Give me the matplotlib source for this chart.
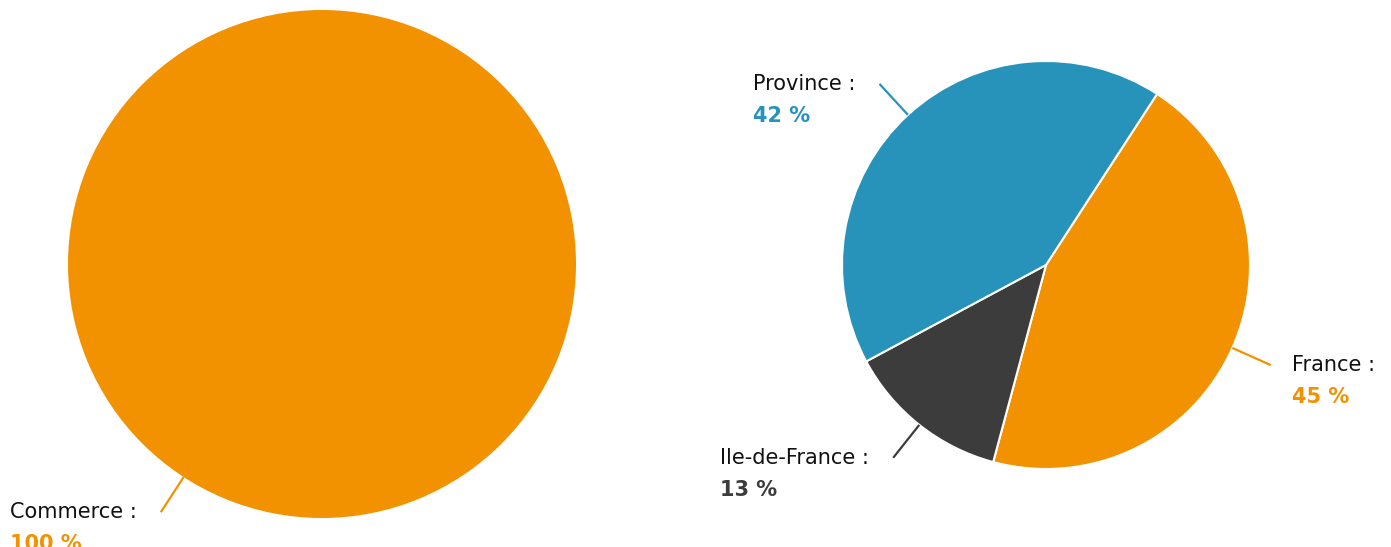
import matplotlib.pyplot as plt
import numpy as np

plt.rcParams['font.family'] = 'DejaVu Sans'

# left pie
left_labels = ['Commerce']
left_values = [100]
left_colors = ['#F39200']

# right pie
right_labels = ['France', 'Ile-de-France', 'Province']
right_values = [45, 13, 42]
right_colors = ['#F39200', '#3C3C3C', '#2893BA']

W, H = 1391, 547
fig = plt.figure(figsize=(W / 100, H / 100), dpi=100)
ax = fig.add_axes([0, 0, 1, 1])

pending = []  # (first-line text, y, value, colour)


def draw_pie(values, labels, colors, center, radius, edge):
    wedges, _ = ax.pie(values, colors=colors, startangle=57, counterclock=False,
                       center=center, radius=radius,
                       wedgeprops=dict(edgecolor='white', linewidth=edge))
    for w, lab, val, col in zip(wedges, labels, values, colors):
        ang = np.deg2rad((w.theta1 + w.theta2) / 2)
        c, s = np.cos(ang), np.sin(ang)
        x0, y0 = center[0] + radius * c, center[1] + radius * s
        x1, y1 = center[0] + (radius + 42) * c, center[1] + (radius + 42) * s
        ax.plot([x0, x1], [y0, y1], color=col, lw=1.6, solid_capstyle='butt')
        if c >= 0:
            t = ax.text(x1 + 21, y1 - 6, f'{lab} :', ha='left', va='baseline',
                        fontsize=15, color='#111111')
        else:
            t = ax.text(x1 - 24, y1 - 6, f'{lab} :', ha='right', va='baseline',
                        fontsize=15, color='#111111')
        pending.append((t, y1 - 38, val, col))


draw_pie(left_values, left_labels, left_colors, (322, H - 264), 254, 0)
draw_pie(right_values, right_labels, right_colors, (1046, H - 265), 204, 1.5)

ax.set_xlim(0, W)
ax.set_ylim(0, H)
ax.set_aspect('equal')
ax.axis('off')

# second line (bold percentage) left-aligned under the first line
fig.canvas.draw()
inv = ax.transData.inverted()
for t, y, val, col in pending:
    bb = t.get_window_extent()
    x = inv.transform((bb.x0, bb.y0))[0]
    ax.text(x, y, f'{val} %', ha='left', va='baseline',
            fontsize=15, fontweight='bold', color=col)

fig.savefig('out.png', dpi=100)
